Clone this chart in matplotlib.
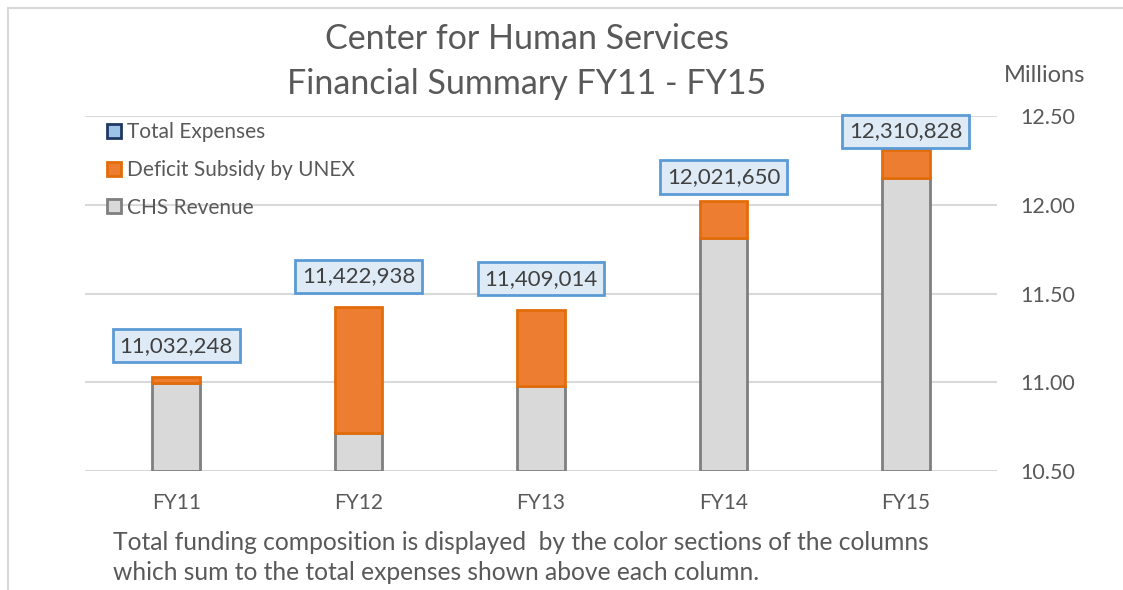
import matplotlib

matplotlib.use("Agg")
import matplotlib.pyplot as plt
from matplotlib.patches import Patch, Rectangle
import numpy as np

years = ["FY11", "FY12", "FY13", "FY14", "FY15"]
chs_revenue = [10.995, 10.712, 10.979, 11.811, 12.152]
total_expenses = [11.032248, 11.422938, 11.409014, 12.021650, 12.310828]
total_labels = ["11,032,248", "11,422,938", "11,409,014", "12,021,650", "12,310,828"]
y_ticks = [10.50, 11.00, 11.50, 12.00, 12.50]

deficit = [t - r for t, r in zip(total_expenses, chs_revenue)]
base = 10.5

GRAY = "#D9D9D9"
GRAY_EDGE = "#7F7F7F"
ORANGE = "#ED7D31"
ORANGE_EDGE = "#E36C0A"
BLUE_FILL = "#DEEBF7"
BLUE_EDGE = "#5B9BD5"
TEXT = "#404040"
MUTED = "#595959"

plt.rcParams["font.family"] = ["Lato", "DejaVu Sans"]

fig = plt.figure(figsize=(11.23, 5.90), dpi=100)
ax = fig.add_axes([85 / 1123, 1 - 471 / 590, (997 - 85) / 1123, (471 - 116) / 590])

x = np.arange(len(years))
width = 0.26
ax.bar(x, np.array(chs_revenue) - base, width, bottom=base, color=GRAY,
       edgecolor=GRAY_EDGE, linewidth=2, zorder=3)
ax.bar(x, deficit, width, bottom=chs_revenue, color=ORANGE,
       edgecolor=ORANGE_EDGE, linewidth=2, zorder=3)

# label boxes above each column (gap in points)
gaps = [15, 15, 15, 10, 6]
for xi, tot, lab, g in zip(x, total_expenses, total_labels, gaps):
    ax.annotate(lab, (xi, tot), xytext=(0, g), textcoords="offset points",
                ha="center", va="bottom", fontsize=16, color=TEXT, zorder=5,
                bbox=dict(boxstyle="square,pad=0.3", facecolor=BLUE_FILL,
                          edgecolor=BLUE_EDGE, linewidth=2),
                annotation_clip=False)

ax.set_xlim(-0.5, len(years) - 0.5)
ax.set_ylim(10.5, 12.5)
ax.set_xticks(x)
ax.set_xticklabels(years)
ax.set_yticks(y_ticks)
ax.set_yticklabels([f"{v:.2f}" for v in y_ticks])
ax.yaxis.tick_right()
ax.tick_params(axis="y", length=0, pad=17, labelsize=15.5, labelcolor=MUTED)
ax.tick_params(axis="x", length=0, pad=16, labelsize=15, labelcolor=MUTED)
ax.grid(axis="y", color="#D9D9D9", linewidth=1.5, zorder=0)
for spine in ax.spines.values():
    spine.set_visible(False)

fig.text(1045 / 1123, 1 - 75 / 590, "Millions", ha="center", va="center",
         fontsize=17, color=MUTED)

fig.text(527 / 1123, 1 - 39 / 590, "Center for Human Services", ha="center",
         va="center", fontsize=24.5, color=MUTED)
fig.text(527 / 1123, 1 - 84 / 590, "Financial Summary FY11 - FY15", ha="center",
         va="center", fontsize=24.5, color=MUTED)

handles = [
    Patch(facecolor="#9DC3E6", edgecolor="#203864", linewidth=2, label="Total Expenses"),
    Patch(facecolor=ORANGE, edgecolor=ORANGE_EDGE, linewidth=2, label="Deficit Subsidy by UNEX"),
    Patch(facecolor=GRAY, edgecolor=GRAY_EDGE, linewidth=2, label="CHS Revenue"),
]
leg = fig.legend(handles=handles, loc="upper left",
                 bbox_to_anchor=(99 / 1123, 1 - 114 / 590), frameon=False,
                 fontsize=15, handlelength=0.65, handleheight=0.65,
                 handletextpad=0.3, labelspacing=0.85, borderaxespad=0)
for t in leg.get_texts():
    t.set_color(MUTED)

fig.text(113 / 1123, 1 - 543 / 590,
         "Total funding composition is displayed  by the color sections of the columns",
         ha="left", va="center", fontsize=17.7, color=MUTED)
fig.text(113 / 1123, 1 - 573 / 590,
         "which sum to the total expenses shown above each column.",
         ha="left", va="center", fontsize=17.7, color=MUTED)

# chart frame (only left and top edges fall inside the image)
fig.patches.append(Rectangle((8 / 1123, -0.1), 1.5, 1.1 - 8 / 590,
                             transform=fig.transFigure, fill=False,
                             edgecolor="#D9D9D9", linewidth=1.5))

fig.savefig("out.png", dpi=100)
